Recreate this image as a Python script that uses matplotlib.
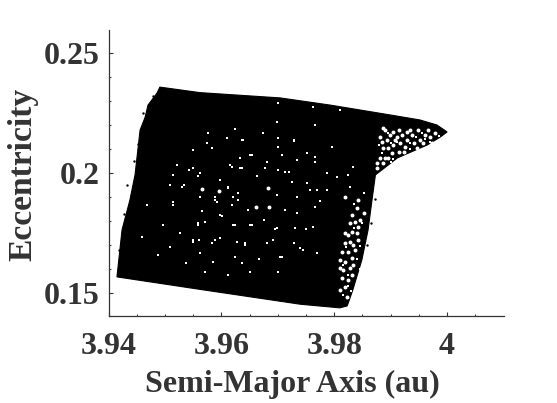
from matplotlib import pyplot as plt

# outline of the black cloud (semi-major axis, eccentricity)
edge_a = [3.9491, 3.9562, 3.9704, 3.9793, 3.9899, 3.9952, 3.9982, 4.0000, 3.9988, 3.9965,
          3.9912, 3.9873, 3.9867, 3.9860, 3.9849, 3.9833, 3.9823, 3.9810, 3.9740, 3.9562,
          3.9415, 3.9424, 3.9438, 3.9447, 3.9456, 3.9465, 3.9470, 3.9486]
edge_e = [0.2358, 0.2335, 0.2313, 0.2283, 0.2242, 0.2221, 0.2200, 0.2171, 0.2150, 0.2117,
          0.2063, 0.1992, 0.1888, 0.1763, 0.1638, 0.1513, 0.1446, 0.1438, 0.1453, 0.1515,
          0.1567, 0.1763, 0.1888, 0.1992, 0.2179, 0.2233, 0.2283, 0.2333]

# stray points just outside the outline
stray_a = [3.9872, 3.9866, 3.9858, 3.9445, 3.9432, 3.9453, 3.9419, 3.9428, 3.9462, 3.9478]
stray_e = [0.1892, 0.1790, 0.1700, 0.2050, 0.1950, 0.2120, 0.1680, 0.1830, 0.2250, 0.2320]

# gaps inside the main body
gap_a = [3.9611, 3.9630, 3.9651, 3.9624, 3.9728, 3.9577, 3.9701,
         3.9636, 3.9663, 3.9598, 3.9559, 3.9542, 3.9701, 3.9763, 3.9810, 3.9825, 3.9828,
         3.9734, 3.9698, 3.9621, 3.9589, 3.9562, 3.9509, 3.9533, 3.9574, 3.9583, 3.9639,
         3.9674, 3.9680, 3.9707, 3.9734, 3.9701, 3.9719, 3.9766, 3.9787, 3.9852, 3.9769,
         3.9751, 3.9725, 3.9633, 3.9615, 3.9550, 3.9515, 3.9550, 3.9521, 3.9610, 3.9698,
         3.9766, 3.9834, 3.9805, 3.9796, 3.9751,
         3.9571, 3.9559, 3.9565, 3.9601, 3.9624, 3.9654, 3.9642, 3.9627,
         3.9561, 3.9509, 3.9562, 3.9624, 3.9666, 3.9707, 3.9701, 3.9728, 3.9750, 3.9695,
         3.9713, 3.9648, 3.9592, 3.9619, 3.9680, 3.9527, 3.9497, 3.9468, 3.9515, 3.9550,
         3.9589, 3.9586, 3.9538, 3.9636, 3.9571, 3.9612, 3.9651, 3.9745, 3.9731, 3.9769,
         3.9675, 3.9734, 3.9766, 3.9459, 3.9488,
         3.9612, 3.9630, 3.9589, 3.9630, 3.9598, 3.9621, 3.9663, 3.9686, 3.9559, 3.9651,
         3.9698, 3.9713, 3.9734, 3.9775, 3.9683, 3.9654, 3.9633, 3.9598, 3.9562, 3.9530,
         3.9515, 3.9550, 3.9583, 3.9624, 3.9704, 3.9728, 3.9701, 3.9642, 3.9598, 3.9692,
         3.9740, 3.9763, 3.9713, 3.9678, 3.9618, 3.9574, 3.9636, 3.9701, 3.9728, 3.9766,
         3.9787, 3.9757]
gap_e = [0.1936, 0.1918, 0.2075, 0.2182, 0.2135, 0.2168, 0.2144,
         0.2019, 0.1987, 0.1971, 0.1987, 0.2012, 0.2290, 0.2276, 0.2262, 0.1992, 0.1943,
         0.1901, 0.1908, 0.1901, 0.1899, 0.1901, 0.1950, 0.1950, 0.2123, 0.2103, 0.2137,
         0.2165, 0.2047, 0.2075, 0.2054, 0.2012, 0.2005, 0.2047, 0.1929, 0.1915, 0.1929,
         0.1957, 0.1964, 0.2061, 0.2033, 0.2019, 0.1992, 0.2096, 0.2033, 0.2144, 0.2214,
         0.2200, 0.2026, 0.1985, 0.2110, 0.2082,
         0.1797, 0.1790, 0.1843, 0.1822, 0.1783, 0.1783, 0.1707, 0.1714,
         0.1721, 0.1690, 0.1665, 0.1651, 0.1640, 0.1651, 0.1589, 0.1707, 0.1765, 0.1765,
         0.1846, 0.1846, 0.1881, 0.1867, 0.1707, 0.1749, 0.1783, 0.1867, 0.1867, 0.1714,
         0.1721, 0.1631, 0.1624, 0.1623, 0.1589, 0.1575, 0.1589, 0.1679, 0.1770, 0.1665,
         0.1805, 0.1832, 0.1860, 0.1735, 0.1659,
         0.1940, 0.1918, 0.1888, 0.1888, 0.1825, 0.1783, 0.1853, 0.1853, 0.1783, 0.1783,
         0.1769, 0.1846, 0.1901, 0.1885, 0.1936, 0.2075, 0.2019, 0.1971, 0.1999, 0.1943,
         0.1881, 0.1721, 0.1707, 0.1651, 0.1651, 0.1707, 0.1589, 0.1700, 0.1728, 0.1721,
         0.1686, 0.1776, 0.2006, 0.2019, 0.2026, 0.2124, 0.2138, 0.2110, 0.2138, 0.2068,
         0.1999, 0.1929]

# the few larger holes near the centre
hole_a = [3.9565, 3.9595, 3.9661, 3.9685, 3.9682]
hole_e = [0.1932, 0.1925, 0.1857, 0.1857, 0.1936]

# gaps in the sparse wedge and the sparse lower right strip
sparse_a = [3.9890, 3.9899, 3.9893, 3.9884, 3.9905, 3.9887, 3.9896, 3.9905, 3.9881, 3.9890,
            3.9896, 3.9886, 3.9876, 3.9920, 3.9929, 3.9938, 3.9917, 3.9926, 3.9941, 3.9952,
            3.9961, 3.9970, 3.9958, 3.9967, 3.9949, 3.9979, 3.9935, 3.9914, 3.9902, 3.9887,
            3.9908, 3.9914, 3.9929, 3.9973, 3.9947, 3.9875, 3.9911, 3.9881, 3.9923,
            3.9843, 3.9840, 3.9831, 3.9837, 3.9828, 3.9843, 3.9846, 3.9831, 3.9825, 3.9840,
            3.9819, 3.9828, 3.9819, 3.9834, 3.9813, 3.9825, 3.9837, 3.9810, 3.9819, 3.9831,
            3.9810, 3.9816, 3.9828, 3.9813, 3.9825, 3.9819, 3.9810, 3.9831, 3.9819, 3.9852,
            3.9843, 3.9834, 3.9822]
sparse_e = [0.2179, 0.2158, 0.2137, 0.2131, 0.2172, 0.2103, 0.2103, 0.2117, 0.2061, 0.2061,
            0.2061, 0.2040, 0.2040, 0.2158, 0.2137, 0.2158, 0.2124, 0.2110, 0.2124, 0.2137,
            0.2158, 0.2151, 0.2124, 0.2179, 0.2179, 0.2165, 0.2179, 0.2089, 0.2082, 0.2186,
            0.2137, 0.2179, 0.2172, 0.2124, 0.2103, 0.2019, 0.2151, 0.2151, 0.2089,
            0.1888, 0.1853, 0.1825, 0.1797, 0.1790, 0.1776, 0.1804, 0.1756, 0.1742, 0.1749,
            0.1749, 0.1714, 0.1707, 0.1700, 0.1672, 0.1672, 0.1679, 0.1638, 0.1631, 0.1644,
            0.1603, 0.1596, 0.1603, 0.1561, 0.1554, 0.1526, 0.1513, 0.1575, 0.1901, 0.1832,
            0.1721, 0.1617, 0.1485]

fine_a = [3.9895, 3.9912, 3.9900, 3.9885, 3.9880, 3.9935, 3.9945, 3.9955, 3.9985, 3.9935,
          3.9900, 3.9905, 3.9960, 3.9970,
          3.9835, 3.9835, 3.9850, 3.9820, 3.9845, 3.9815, 3.9840, 3.9825, 3.9815, 3.9825,
          3.9845, 3.9830]
fine_e = [0.2165, 0.2130, 0.2125, 0.2085, 0.2115, 0.2125, 0.2150, 0.2165, 0.2155, 0.2100,
          0.2045, 0.2060, 0.2140, 0.2130,
          0.1870, 0.1770, 0.1790, 0.1690, 0.1695, 0.1615, 0.1640, 0.1575, 0.1490, 0.1530,
          0.1600, 0.1510]

x_ticks = [3.94, 3.96, 3.98, 4.0]
x_labels = ['3.94', '3.96', '3.98', '4']
y_ticks = [0.15, 0.2, 0.25]
y_labels = ['0.15', '0.2', '0.25']

plt.rcParams['font.family'] = ['Liberation Serif', 'DejaVu Serif']
plt.rcParams['font.weight'] = 'bold'
ink = '#333333'

fig = plt.figure(figsize=(5.57, 4.03), dpi=100)
ax = fig.add_axes([108.5 / 557, 87 / 403, 395 / 557, 286 / 403])

ax.fill(edge_a, edge_e, color='black', lw=0.8, zorder=2)
ax.scatter(stray_a, stray_e, s=3, color='black', linewidths=0, zorder=2)
ax.scatter(gap_a, gap_e, s=2, color='white', marker='s', linewidths=0, zorder=3)
ax.scatter(hole_a, hole_e, s=8, color='white', linewidths=0, zorder=3)
ax.scatter(sparse_a, sparse_e, s=8, color='white', linewidths=0, zorder=3)
ax.scatter(fine_a, fine_e, s=4, color='white', marker='s', linewidths=0, zorder=3)

ax.set_xlim(3.94, 4.01)
ax.set_ylim(0.1404, 0.2596)
ax.spines['top'].set_visible(False)
ax.spines['right'].set_visible(False)
for side in ['left', 'bottom']:
    ax.spines[side].set_color(ink)
    ax.spines[side].set_linewidth(0.9)

ax.set_xticks(x_ticks, x_labels)
ax.set_yticks(y_ticks, y_labels)
ax.set_xticks([3.945, 3.95, 3.955, 3.965, 3.97, 3.975, 3.985, 3.99, 3.995, 4.005], minor=True)
ax.set_yticks([0.16, 0.17, 0.18, 0.19, 0.21, 0.22, 0.23, 0.24], minor=True)
ax.tick_params(which='major', direction='in', length=3, width=0.8, color=ink,
               labelsize=23, labelcolor=ink)
ax.tick_params(which='minor', direction='in', length=1.6, width=0.7, color=ink)
ax.tick_params(axis='x', which='major', pad=11.5)
ax.tick_params(axis='y', which='major', pad=6.5)

ax.set_xlabel('Semi-Major Axis (au)', fontsize=23, fontweight='bold', color=ink)
ax.set_ylabel('Eccentricity', fontsize=24.2, fontweight='bold', color=ink)
ax.xaxis.set_label_coords(0.465, -0.19)
ax.yaxis.set_label_coords(-0.178, 0.495)

fig.savefig('out.png', dpi=100)
